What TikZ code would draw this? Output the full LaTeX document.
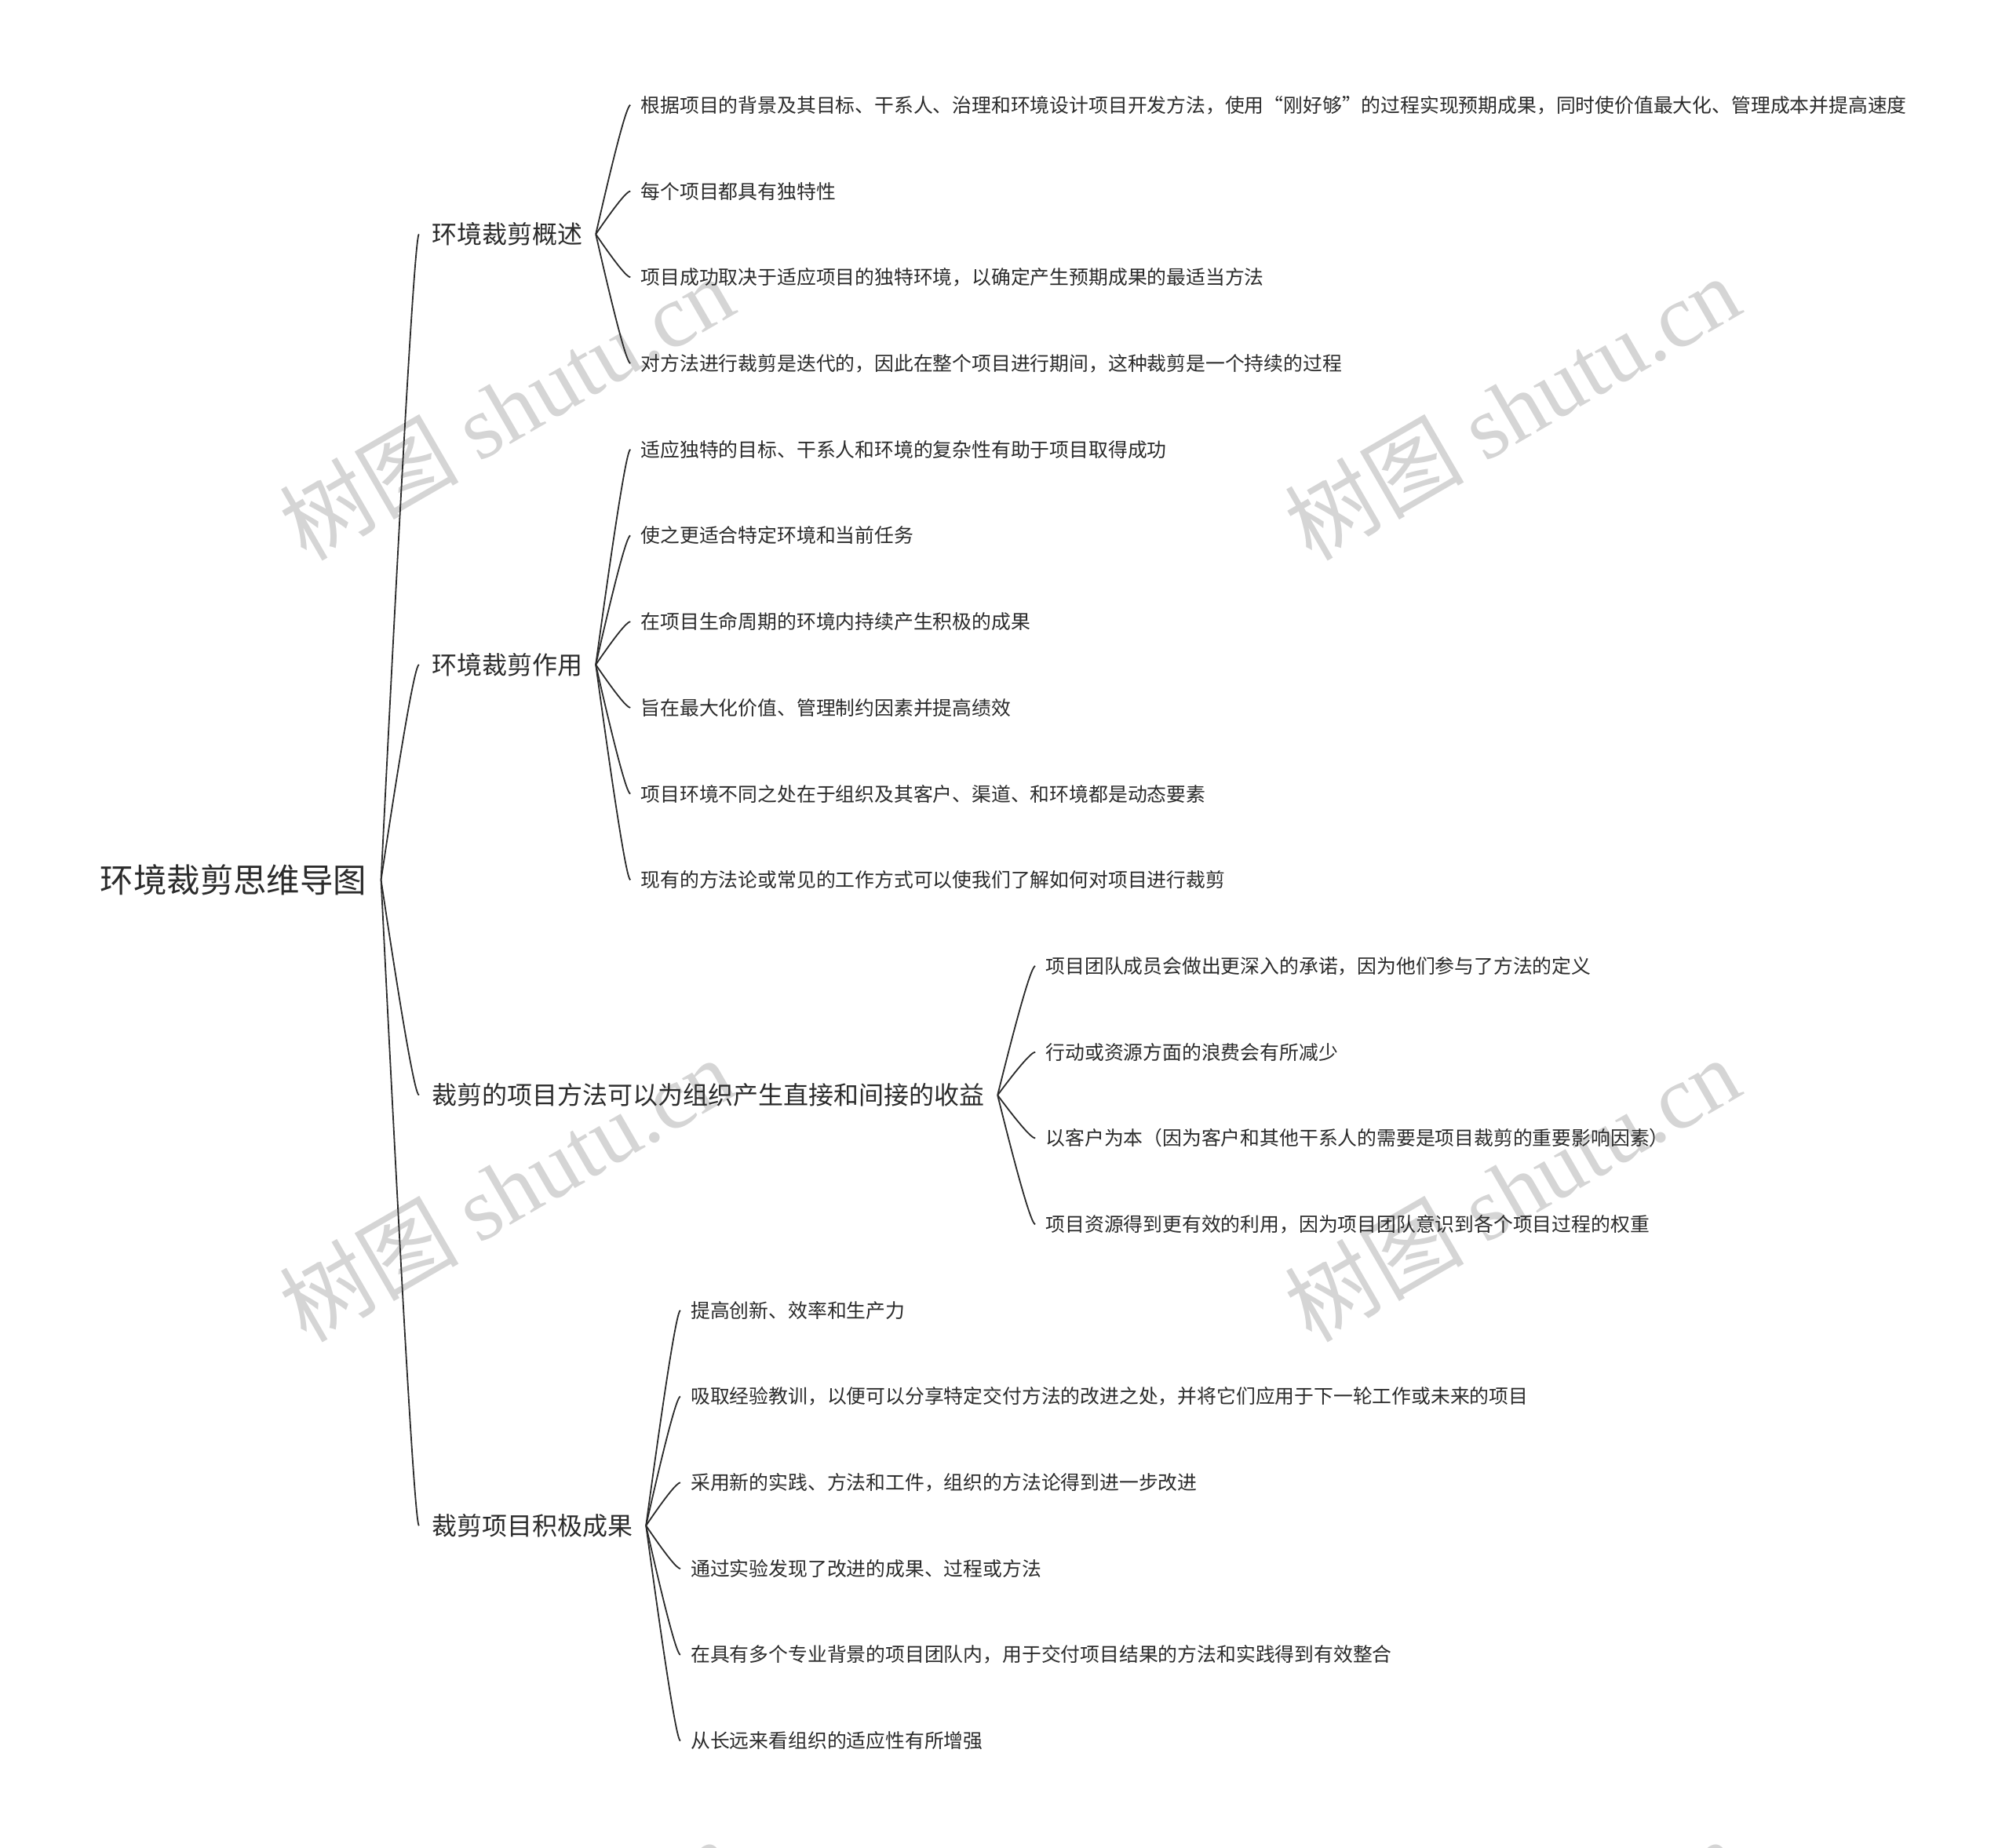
\documentclass[tikz,border=0pt]{standalone}
\usepackage{fontspec}
\setmainfont{Noto Sans CJK SC}
\newfontfamily\wmlatin{Liberation Serif}
\usetikzlibrary{calc}
\definecolor{ink}{HTML}{2B2B2B}
\definecolor{wmgray}{HTML}{D5D5D5}
\newcommand\mmlink[2]{\draw[edge] let \p1=(#1.east), \p2=(#2.west) in (\p1) .. controls ({\x1+0.567*(\x2-\x1)},{\y1+0.667*(\y2-\y1)}) and ({\x2-0.1*(\x2-\x1)},{\y2}) .. (\p2);}
\begin{document}
\begin{tikzpicture}[x=1pt,y=-1pt,
  leaf/.style={anchor=west, inner xsep=8pt, inner ysep=2pt, font=\fontsize{15.2}{18}\selectfont, text=ink},
  branch/.style={anchor=west, inner xsep=10pt, inner ysep=2pt, font=\fontsize{19.6}{24}\selectfont, text=ink},
  rootnode/.style={anchor=west, inner xsep=11pt, inner ysep=2pt, font=\fontsize{26}{31}\selectfont, text=ink},
  edge/.style={draw=ink, line width=1.1pt},
  wmark/.style={text=wmgray, rotate=30, inner sep=0pt, font=\fontsize{70}{76}\selectfont}]
\useasboundingbox (0,0) rectangle (1568,1442);
\fill[white] (0,0) rectangle (1568,1442);
\begin{scope}
\clip (0,0) rectangle (1568,1442);
\node[wmark] (wm1) at (395,318) {树图 {\wmlatin shutu.cn}};
\node[wmark] (wm2) at (1180,318) {树图 {\wmlatin shutu.cn}};
\node[wmark] (wm3) at (395,928) {树图 {\wmlatin shutu.cn}};
\node[wmark] (wm4) at (1180,928) {树图 {\wmlatin shutu.cn}};
\node[wmark] (wm5) at (395,1538) {树图 {\wmlatin shutu.cn}};
\node[wmark] (wm6) at (1180,1538) {树图 {\wmlatin shutu.cn}};
\end{scope}

\node[rootnode] (root) at (67,686.8) {环境裁剪思维导图};

\node[branch] (b1) at (327,182.8) {环境裁剪概述};
\node[branch] (b2) at (327,518.8) {环境裁剪作用};
\node[branch] (b3) at (327,854.8) {裁剪的项目方法可以为组织产生直接和间接的收益};
\node[branch] (b4) at (327,1190.8) {裁剪项目积极成果};

\node[leaf] (l1) at (492,82) {根据项目的背景及其目标、干系人、治理和环境设计项目开发方法，使用“刚好够”的过程实现预期成果，同时使价值最大化、管理成本并提高速度};
\node[leaf] (l2) at (492,149.2) {每个项目都具有独特性};
\node[leaf] (l3) at (492,216.4) {项目成功取决于适应项目的独特环境，以确定产生预期成果的最适当方法};
\node[leaf] (l4) at (492,283.6) {对方法进行裁剪是迭代的，因此在整个项目进行期间，这种裁剪是一个持续的过程};

\node[leaf] (l5) at (492,350.8) {适应独特的目标、干系人和环境的复杂性有助于项目取得成功};
\node[leaf] (l6) at (492,418) {使之更适合特定环境和当前任务};
\node[leaf] (l7) at (492,485.2) {在项目生命周期的环境内持续产生积极的成果};
\node[leaf] (l8) at (492,552.4) {旨在最大化价值、管理制约因素并提高绩效};
\node[leaf] (l9) at (492,619.6) {项目环境不同之处在于组织及其客户、渠道、和环境都是动态要素};
\node[leaf] (l10) at (492,686.8) {现有的方法论或常见的工作方式可以使我们了解如何对项目进行裁剪};

\node[leaf] (l11) at (808,754) {项目团队成员会做出更深入的承诺，因为他们参与了方法的定义};
\node[leaf] (l12) at (808,821.2) {行动或资源方面的浪费会有所减少};
\node[leaf] (l13) at (808,888.4) {以客户为本（因为客户和其他干系人的需要是项目裁剪的重要影响因素）};
\node[leaf] (l14) at (808,955.6) {项目资源得到更有效的利用，因为项目团队意识到各个项目过程的权重};

\node[leaf] (l15) at (531,1022.8) {提高创新、效率和生产力};
\node[leaf] (l16) at (531,1090) {吸取经验教训，以便可以分享特定交付方法的改进之处，并将它们应用于下一轮工作或未来的项目};
\node[leaf] (l17) at (531,1157.2) {采用新的实践、方法和工件，组织的方法论得到进一步改进};
\node[leaf] (l18) at (531,1224.4) {通过实验发现了改进的成果、过程或方法};
\node[leaf] (l19) at (531,1291.6) {在具有多个专业背景的项目团队内，用于交付项目结果的方法和实践得到有效整合};
\node[leaf] (l20) at (531,1358.8) {从长远来看组织的适应性有所增强};

\foreach \b in {b1,b2,b3,b4} {\mmlink{root}{\b}}
\foreach \l in {l1,l2,l3,l4} {\mmlink{b1}{\l}}
\foreach \l in {l5,l6,l7,l8,l9,l10} {\mmlink{b2}{\l}}
\foreach \l in {l11,l12,l13,l14} {\mmlink{b3}{\l}}
\foreach \l in {l15,l16,l17,l18,l19,l20} {\mmlink{b4}{\l}}
\end{tikzpicture}
\end{document}
